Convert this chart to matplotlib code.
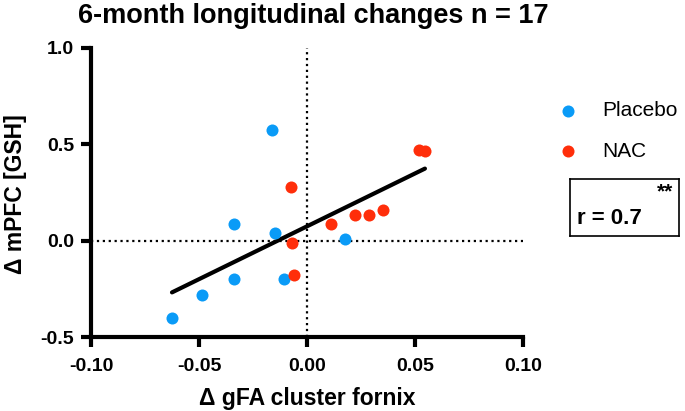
import numpy as np
import matplotlib
matplotlib.use("Agg")
import matplotlib.pyplot as plt

plt.rcParams["font.family"] = ["Liberation Sans", "DejaVu Sans"]

# data
placebo_x = [-0.0162, -0.0339, -0.0148, 0.0174, -0.0336, -0.0105, -0.0485, -0.0625]
placebo_y = [0.574, 0.084, 0.041, 0.009, -0.200, -0.200, -0.280, -0.401]
nac_x = [-0.0076, -0.0071, -0.0059, 0.0111, 0.0222, 0.0286, 0.0352, 0.0520, 0.0546]
nac_y = [0.276, -0.012, -0.176, 0.088, 0.131, 0.131, 0.159, 0.470, 0.465]

x_ticks = [-0.10, -0.05, 0.00, 0.05, 0.10]
y_ticks = [-0.5, 0.0, 0.5, 1.0]

BLUE = "#0A9BF7"
RED = "#FF2E0A"

fig = plt.figure(figsize=(6.85, 4.11), dpi=100)
ax = fig.add_axes([91 / 685, 1 - 337 / 411, 432 / 685, 289 / 411])

ax.axhline(0, color="black", ls=":", lw=1.6, zorder=1)
ax.axvline(0, color="black", ls=":", lw=1.6, zorder=1)

# linear fit over all points
all_x = np.array(placebo_x + nac_x)
all_y = np.array(placebo_y + nac_y)
slope, icpt = np.polyfit(all_x, all_y, 1)
xs = np.array([all_x.min(), all_x.max()])
ax.plot(xs, slope * xs + icpt, color="black", lw=3, solid_capstyle="round", zorder=2)

ax.scatter(placebo_x, placebo_y, s=75, color=BLUE, lw=0, zorder=3, label="Placebo")
ax.scatter(nac_x, nac_y, s=75, color=RED, lw=0, zorder=3, label="NAC")

ax.set_xlim(-0.10, 0.10)
ax.set_ylim(-0.5, 1.0)
ax.set_xticks(x_ticks)
ax.set_xticklabels([f"{v:.2f}" for v in x_ticks])
ax.set_yticks(y_ticks)
ax.set_yticklabels([f"{v:.1f}" for v in y_ticks])

for side in ("top", "right"):
    ax.spines[side].set_visible(False)
for side in ("left", "bottom"):
    ax.spines[side].set_linewidth(3)
    ax.spines[side].set_capstyle("projecting")
ax.tick_params(width=3, length=7, labelsize=14)
ax.tick_params(axis="x", pad=8)
ax.tick_params(axis="y", pad=5)
for lab in ax.get_xticklabels() + ax.get_yticklabels():
    lab.set_fontweight("bold")

ax.set_xlabel("Δ gFA cluster fornix", fontsize=16.5, fontweight="bold")
ax.xaxis.set_label_coords(307 / 685, 1 - 398 / 411, transform=fig.transFigure)
ax.xaxis.label.set_va("center")
ax.set_ylabel("Δ mPFC [GSH]", fontsize=16.5, fontweight="bold")
ax.yaxis.set_label_coords(16 / 685, 1 - 194 / 411, transform=fig.transFigure)
ax.yaxis.label.set_va("center")
fig.text(313 / 685, 1 - 16 / 411, "6-month longitudinal changes n = 17",
         ha="center", va="center", fontsize=19.5, fontweight="bold")

ax.legend(loc="upper left", bbox_to_anchor=(558 / 685, 1 - 101 / 411),
          bbox_transform=fig.transFigure, frameon=False, fontsize=15,
          handlelength=1.0, handletextpad=1.1, labelspacing=1.05,
          borderpad=0, borderaxespad=0)

# correlation box
box_ax = fig.add_axes([570 / 685, 1 - 236 / 411, 109 / 685, 57 / 411])
box_ax.set_xticks([])
box_ax.set_yticks([])
for s in box_ax.spines.values():
    s.set_linewidth(1.2)
box_ax.text(0.06, 0.3, "r = 0.7", fontsize=16, fontweight="bold", va="center", ha="left",
            transform=box_ax.transAxes)
box_ax.text(0.95, 0.78, "**", fontsize=15, fontweight="bold", va="center", ha="right",
            transform=box_ax.transAxes)

fig.savefig("out.png", dpi=100)
